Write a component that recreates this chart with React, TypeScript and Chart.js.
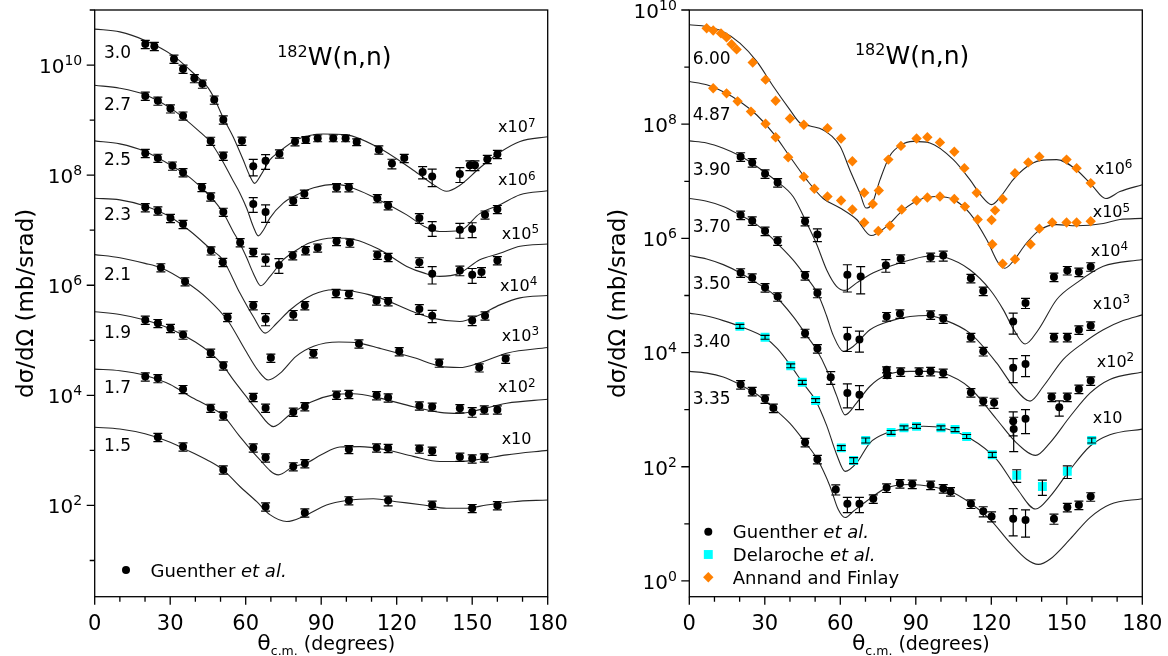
import { useEffect, useRef } from 'react';
import { Chart, registerables } from 'chart.js';

Chart.register(...registerables);

const FONT = 'DejaVu Sans';

type P = [number, number];
type E = [number, number, number];

// ===================== LEFT PANEL (Guenther et al.) =====================
// curves: [theta c.m. (deg), dσ/dΩ (mb/sr)] — unscaled physical values
const c30: P[] = [[0,4.5e3],[10,4.0e3],[20,2.8e3],[31,1.5e3],[40,660],[45,390],[47.5,250],[51,112],[55,50],[59,19],[61.5,10],[63.5,7.1],[66,10],[69.6,19],[73,26],[80.2,44],[90.8,56],[100,54],[112,33],[126.6,12.3],[134.5,6.8],[139.8,5.1],[145,6.5],[153,13.5],[161,26],[169,41],[180,50]];
const d30: E[] = [[20.1,2400,.17],[23.7,2200,.17],[31.5,1290,.17],[35.1,850,.17],[39.6,575,.17],[42.8,457,.17],[47.5,234,.17],[51.1,102,.17],[58.5,42,.17],[63,14.5,.33],[67.9,18.2,.3],[73.4,24.5,.17],[79.6,41,.17],[83.9,44,.14],[88.6,47,.14],[94.8,47,.14],[99.7,47,.14],[104.1,40,.14],[112.9,29,.17],[118.1,16.2,.2],[123,20.4,.17],[130.3,11.4,.25],[134.1,9.5,.35],[145.1,10.5,.3],[149.1,15.1,.2],[151.1,15.1,.2],[156,19.5,.17],[160,24,.17]];

const c27: P[] = [[0,4.3e3],[10,3.8e3],[20,2.9e3],[31,1.55e3],[42,600],[46,400],[50.5,190],[55,79],[57.7,47],[60.4,25],[63,11.7],[65,7.9],[67,10],[69.6,16.6],[74.9,31],[80,43],[87,59],[96,68],[104,55],[113,35.5],[124,19],[131,11.7],[137,9.5],[145,9.8],[153,20],[161,29],[169,44],[180,52]];
const d27: E[] = [[20.1,2750,.17],[25.1,2240,.17],[30.1,1620,.17],[35.1,1200,.17],[46.1,417,.17],[51.1,224,.17],[63,30,.3],[67.9,21.4,.35],[78.9,34,.17],[83.3,45.7,.17],[96.1,60,.17],[101,60,.17],[112.3,38,.17],[116.6,28.2,.17],[129,16.6,.2],[134.1,11,.3],[145.1,10.2,.3],[150,10.5,.3],[155.1,19.1,.17],[160,24,.17]];

const c25: P[] = [[0,4.2e3],[10,3.7e3],[20,2.7e3],[31,1.45e3],[38,890],[46,407],[51,209],[55,95],[57.7,57.5],[60.4,31.6],[63,16.6],[66,9.8],[69.7,14.5],[74.9,28.8],[80.3,43.7],[85.5,59],[95,72],[103,68],[113,45],[124,22],[131,16.6],[137,14.5],[145,16.6],[153,29],[161,38],[169,51],[180,56]];
const d25: E[] = [[20.1,2510,.17],[25.1,2050,.17],[30.9,1480,.17],[35.1,1120,.17],[42.6,603,.17],[46.1,407,.17],[51.1,214,.17],[57.8,60,.17],[63,40,.17],[67.9,29.5,.25],[73.2,23.4,.3],[78.7,34.7,.17],[83.8,43,.17],[88.6,48,.17],[96.1,63,.17],[101.4,59,.17],[112.3,35.5,.17],[116.6,32.4,.17],[129,26.3,.2],[134.1,16.2,.35],[145.1,18.6,.2],[150,15.5,.3],[153.7,17.4,.2],[160,28.2,.17]];

const c23: P[] = [[0,3.8e3],[10,3.55e3],[20,2.75e3],[30,1.74e3],[38,955],[46,457],[51,288],[57.7,72],[63,27],[67.7,13.5],[72.3,20.4],[77.6,35.5],[86.8,67.6],[94.8,83],[102.7,77.6],[113.3,59],[126.6,33],[134.5,25],[145.1,22],[153.1,29],[161,44],[169,59],[180,65]];
const d23: E[] = [[20.1,2600,.17],[25.1,2260,.17],[30.1,1660,.17],[35.1,1290,.17],[46.2,427,.17],[50.9,263,.17],[63,43,.17],[67.9,24.5,.25],[78.9,29,.2],[83.5,43,.17],[95.9,72,.17],[101,69,.17],[112,52.5,.17],[116.6,51,.17],[129,37,.2],[134.1,28,.25],[150,23,.2],[155.1,28,.17]];

const c21: P[] = [[0,3.6e3],[10,3.16e3],[20,2.5e3],[26,2.1e3],[36,1.17e3],[45,562],[53,224],[59.7,68],[65,28],[69,19],[73.6,25],[80,51],[87,78],[97,93],[105,89],[113,72],[127,48],[137,34],[145,32],[153,39],[164,59],[180,74]];
const d21: E[] = [[26.3,2100,.17],[35.9,1170,.17],[52.8,263,.17],[70,48,.17],[86.9,58,.17],[105,87,.17],[121,63,.17],[136.9,39,.17],[152.8,32,.17],[163.3,46,.17]];

const c19: P[] = [[0,3.3e3],[10,2.95e3],[20,2.34e3],[30,1.62e3],[40,933],[46,589],[51,347],[55.1,191],[59.7,102],[64.4,55],[71,27],[77.6,45],[86,76],[94.8,102],[102.7,107],[113.3,89],[126.6,62],[137.2,49],[145.1,47],[153.1,55],[163.7,72],[180,85]];
const d19: E[] = [[20.1,2340,.17],[25.1,2040,.17],[30.1,1660,.17],[35.1,1260,.17],[46.1,589,.17],[51.1,347,.17],[63,93,.17],[67.9,59,.17],[78.9,50,.17],[83.5,63,.17],[96.1,102,.17],[101,105,.17],[112,100,.17],[116.6,91,.17],[129,65,.17],[134.1,62,.17],[145.1,58,.17],[150,50,.2],[154.8,55,.17],[160,55,.17]];

const c17: P[] = [[0,3.0e3],[10,2.8e3],[20,2.3e3],[30,1.58e3],[37.9,955],[45.8,617],[50.9,437],[57.7,178],[64.4,78],[73,36],[78.9,51],[83.8,58],[90,83],[97.4,115],[105.4,117],[116,102],[126.6,78],[137.2,63],[145.1,63],[153.1,69],[163.7,83],[180,100]];
const d17: E[] = [[20.1,2190,.17],[25.1,2040,.17],[35.1,1290,.17],[46.1,589,.17],[51.1,427,.17],[63,112,.17],[67.9,74,.17],[78.9,51,.17],[83.5,58,.17],[101,105,.17],[112,112,.17],[116.6,110,.17],[129,107,.17],[134.1,98,.17],[145.1,76,.17],[150,71,.17],[154.8,74,.17]];

const c15: P[] = [[0,2.63e3],[10,2.45e3],[20,2.0e3],[30,1.41e3],[37.9,955],[44.5,676],[50.9,447],[57.7,221],[64.4,117],[69.6,68],[76.3,51],[82.9,63],[92.1,102],[100.1,123],[110.7,132],[119.9,117],[130.6,102],[139.8,89],[147.8,89],[155.7,102],[166.3,117],[180,126]];
const d15: E[] = [[25.1,1740,.17],[35.1,1170,.17],[51.1,447,.17],[67.9,95,.17],[83.5,74,.17],[101,123,.17],[116.6,123,.2],[134.1,102,.17],[150,89,.17],[160,100,.17]];

// ===================== RIGHT PANEL =====================
const c600: P[] = [[0,5.5e3],[6.9,5.13e3],[13.5,4.17e3],[20.1,2.63e3],[26.8,1.26e3],[33.4,457],[40,178],[44,105],[48,93],[53.2,79],[59.9,41],[63.8,15.8],[67.8,6.2],[70.2,3.4],[72.5,3.9],[75.8,10.7],[79.7,28],[84,43],[89,50],[95.6,47],[104.9,24],[111.5,10.7],[116,5.6],[120.1,3.9],[124,5.6],[128.7,10.7],[134,17.8],[139.3,23],[146,24],[153.9,15.8],[160,8.5],[165.5,5.0],[171.1,6.6],[180,8.7]];
const a600: P[] = [[6.9,4790],[9.5,4370],[12.6,3890],[14.8,3310],[16.8,2510],[18.8,2040],[25.2,1200],[30.3,603],[34.3,257],[40,126],[45.5,98],[54.9,85],[60.3,56],[64.8,22.4],[69.5,6.3],[72.9,4.0],[75.3,6.9],[79.1,24],[84.1,41.7],[90.3,56],[94.6,59],[99.6,48],[105.3,33],[109.3,17],[114.2,6.3],[120.1,2.1],[121.5,3.1],[124.5,4.9],[129.4,13.8],[134.7,21.4],[139.1,27],[149.9,24],[153.9,17],[159.5,9.3]];

const c487: P[] = [[0,5.6e3],[6.9,4.9e3],[13.5,3.7e3],[20.1,2.5e3],[26.8,1.45e3],[33.4,692],[40,269],[46.6,107],[53.2,50],[59.9,34],[66.5,21.4],[72.2,11.2],[78.4,16.2],[85,31.6],[91.7,48],[98.3,54],[104.9,48],[111.5,27.5],[118.2,9.5],[122.8,3.7],[125.4,3.0],[128.7,4.0],[134,8.3],[139.3,14.1],[146,17.4],[153.9,16.6],[164.5,18.2],[171.1,21.4],[180,22.4]];
const a487: P[] = [[9.5,4270],[14.8,3470],[19.2,2510],[24.5,1660],[30.3,1020],[34.3,589],[39.3,263],[45.5,120],[49.7,74],[54.9,54],[60.3,46],[64.8,32],[69.5,19],[75.1,13.5],[79.7,16.6],[84.4,32],[90.3,46],[94.6,52],[99.6,54],[105.3,49],[109.5,36],[114.6,21.4],[120.4,7.9],[124.5,3.6],[129.4,4.3],[135.6,7.9],[139.1,14.8],[144.2,19],[149.9,19],[153.9,19],[159.5,20]];

const c390: P[] = [[0,5.1e3],[6.9,4.7e3],[13.5,3.8e3],[20.1,2.8e3],[26.8,1.82e3],[34.7,1.0e3],[41.3,537],[46.3,200],[50.6,79],[54.6,28],[58.5,14.5],[61.9,12.3],[66.5,16.6],[71.8,23.4],[79.7,32.4],[87.7,41.7],[95.6,49],[102.3,45.7],[111.5,28.2],[119.5,12.6],[124.8,5.6],[128.7,2.63],[133.4,1.41],[138.7,2.51],[146,8.5],[153.9,16.6],[164.5,32.4],[180,42.7]];
const d390: E[] = [[20.4,2700,.17],[25,2140,.17],[30.1,1350,.17],[35.1,955,.17],[46,200,.17],[50.9,117,.25],[62.8,23,.5],[68.1,21.4,.5],[78.1,34,.25],[84,44,.17],[95.9,47,.17],[100.9,50,.2],[111.9,20,.17],[116.8,12,.17],[128.7,3.5,.4],[133.6,7.4,.2],[144.9,21,.17],[150.2,27.5,.17],[154.8,25.7,.17],[159.5,32,.17]];

const c370: P[] = [[0,5.0e3],[6.9,4.47e3],[13.5,3.63e3],[20.1,2.57e3],[26.8,1.74e3],[33.4,955],[41.3,417],[46,224],[50.9,110],[54.5,44.7],[57.2,20],[61.2,10.5],[65.2,12.9],[71.8,25.1],[81.1,37],[87.7,42.7],[95,44.7],[100.9,38],[111.5,21.9],[122.1,6.6],[128.7,2.57],[135.4,1.41],[140.7,2.57],[148.6,7.6],[156.6,14.8],[164.5,25.1],[172.4,36.3],[180,45.7]];
const d370: E[] = [[20.4,2570,.17],[25,2040,.17],[30.1,1350,.17],[35.1,912,.17],[46,224,.17],[50.9,110,.17],[62.8,19,.45],[67.6,17,.4],[78.4,43,.17],[83.7,48,.17],[95.9,46,.17],[100.9,39,.17],[111.9,18.6,.17],[116.8,10.5,.17],[128.7,5.4,.45],[133.6,6.3,.4],[144.9,18.6,.17],[150.2,18.6,.17],[154.8,25,.17],[159.5,29.5,.17]];

const c350: P[] = [[0,5.0e3],[6.9,4.37e3],[13.5,3.47e3],[20.1,2.51e3],[26.8,1.66e3],[33.4,1.05e3],[41.3,427],[46.6,200],[50.6,112],[54.6,50],[58.5,17.8],[61.9,8.1],[66.5,13.2],[71.8,25.7],[78.4,40.7],[87.7,46.8],[95,46.8],[100.9,43.7],[111.5,24],[122.1,6.8],[130,2.63],[137.6,1.58],[143.3,2.63],[151.3,7.6],[159.2,19.5],[167.1,33.9],[180,45.7]];
const d350: E[] = [[20.4,2510,.17],[25,2040,.17],[30.1,1380,.17],[35.1,955,.17],[46,219,.17],[50.9,118,.17],[56.2,37,.25],[62.8,19.5,.45],[67.6,18.2,.45],[78.4,50,.12],[78.6,40,.12],[84,46,.17],[91.3,46,.17],[95.9,47,.17],[100.9,44,.17],[111.9,20,.17],[116.8,14.1,.17],[121.1,13.2,.2],[128.7,6.3,.45],[128.9,4.6,.6],[133.6,6.9,.45],[144,16.6,.17],[147,11,.3],[150.2,16.6,.17],[154.8,23,.17],[159.5,32,.17]];

const c340: P[] = [[0,4.9e3],[6.9,4.37e3],[13.5,3.63e3],[20.1,2.88e3],[30.1,1.82e3],[35,1.17e3],[40.3,589],[44.9,302],[50.2,145],[54.6,52.5],[58.5,16.6],[61.9,8.3],[66.5,11.7],[71.8,26.3],[78.4,38.9],[87.7,47.9],[93,51.3],[100.9,47.9],[111.5,31.6],[122.1,13.5],[130.1,4.2],[137.6,1.82],[143.3,3.0],[151.3,8.9],[159.2,22.9],[167.1,36.3],[180,45.7]];
const d340: E[] = [[20.1,2880,.08],[30.1,1860,.08],[40.3,589,.08],[44.9,302,.08],[50.2,145,.08],[60.4,21.4,.1],[65.3,12.9,.12],[70.1,29,.1],[80.2,40,.08],[85.3,48,.08],[90.3,51,.08],[100,48,.08],[105.6,45,.08],[110.2,34,.08],[120.4,16.2,.1],[130.1,7.1,.25],[140.3,4.5,.3],[150.2,8.3,.25],[159.9,29,.1]];

const c335: P[] = [[0,4.68e3],[6.9,4.37e3],[13.5,3.72e3],[20.1,2.75e3],[26.8,1.86e3],[33.4,1.07e3],[40,575],[46,269],[50.9,135],[55.9,45.7],[59.2,17.8],[61.9,12.9],[65.2,16.6],[70.5,25.1],[78.4,42.7],[87.7,49],[95.6,45.7],[103.6,37.2],[111.5,23.4],[119.5,12],[127.4,4.68],[134,2.4],[138.7,1.95],[143.3,2.4],[151.3,5.4],[159.2,12.9],[167.1,21.9],[180,27.5]];
const d335: E[] = [[20.4,2750,.17],[25,2100,.17],[30.1,1550,.17],[33.4,1070,.17],[46,269,.17],[50.9,135,.17],[58.2,40,.2],[62.8,22.4,.3],[67.6,22.4,.3],[73.1,27.5,.17],[78.4,42.7,.17],[83.7,51,.17],[88.6,50,.17],[95.9,48,.17],[100.9,41.7,.17],[103.8,37,.17],[111.9,22.4,.17],[116.8,16.6,.2],[120.1,13.5,.2],[128.7,12.3,.5],[133.6,11.7,.5],[144.9,12.3,.2],[150.2,19.5,.17],[154.8,21.4,.17],[159.5,30,.17]];

// ticks
const xTickLabels = [0, 30, 60, 90, 120, 150, 180];
const yTicksLeft = [1e1, 1e2, 1e3, 1e4, 1e5, 1e6, 1e7, 1e8, 1e9, 1e10, 1e11];
const yTicksRight = [1e0, 1e1, 1e2, 1e3, 1e4, 1e5, 1e6, 1e7, 1e8, 1e9, 1e10];

const MARK: any = {
  g: { style: 'circle', r: 4, color: '#000000' },
  d: { style: 'rect', r: 6.3, color: '#00ffff' },
  a: { style: 'rectRot', r: 5.2, color: '#ff8000' },
};

const LEFT: any = {
  series: [
    { e: '3.0', scale: 1e7, curve: c30, marks: [{ kind: 'g', pts: d30 }] },
    { e: '2.7', scale: 1e6, curve: c27, marks: [{ kind: 'g', pts: d27 }] },
    { e: '2.5', scale: 1e5, curve: c25, marks: [{ kind: 'g', pts: d25 }] },
    { e: '2.3', scale: 1e4, curve: c23, marks: [{ kind: 'g', pts: d23 }] },
    { e: '2.1', scale: 1e3, curve: c21, marks: [{ kind: 'g', pts: d21 }] },
    { e: '1.9', scale: 1e2, curve: c19, marks: [{ kind: 'g', pts: d19 }] },
    { e: '1.7', scale: 1e1, curve: c17, marks: [{ kind: 'g', pts: d17 }] },
    { e: '1.5', scale: 1, curve: c15, marks: [{ kind: 'g', pts: d15 }] },
  ],
  yMin: 2.2, yMax: 1e11, yTicks: yTicksLeft,
  axisWidth: 94.7, padRight: 36.3,
  yTitleDx: -61.7,
  titleDeg: 72.5, titleDy: 55,
  energy: [['3.0', 3.7, 1.77e10], ['2.7', 3.7, 1.95e9], ['2.5', 3.7, 2.0e8], ['2.3', 3.7, 2.0e7], ['2.1', 3.7, 1.6e6], ['1.9', 3.7, 1.45e5], ['1.7', 3.7, 1.45e4], ['1.5', 3.7, 1.26e3]],
  mults: [[7, 160.3, 7.7e8], [6, 160.3, 8.3e7], [5, 161.7, 8.9e6], [4, 161.0, 1.02e6], [3, 161.7, 1.26e5], [2, 160.3, 1.45e4], [1, 161.7, 1.66e3]],
  legend: { dx: 31.3, dy: 560, rows: [{ kind: 'g', text: 'Guenther ', it: 'et al.' }] },
};

const RIGHT: any = {
  series: [
    { e: '6.00', scale: 1e6, curve: c600, marks: [{ kind: 'a', pts: a600 }] },
    { e: '4.87', scale: 1e5, curve: c487, marks: [{ kind: 'a', pts: a487 }] },
    { e: '3.90', scale: 1e4, curve: c390, marks: [{ kind: 'g', pts: d390 }] },
    { e: '3.70', scale: 1e3, curve: c370, marks: [{ kind: 'g', pts: d370 }] },
    { e: '3.50', scale: 1e2, curve: c350, marks: [{ kind: 'g', pts: d350 }] },
    { e: '3.40', scale: 1e1, curve: c340, marks: [{ kind: 'd', pts: d340 }] },
    { e: '3.35', scale: 1, curve: c335, marks: [{ kind: 'g', pts: d335 }] },
  ],
  yMin: 0.53, yMax: 1e10, yTicks: yTicksRight,
  axisWidth: 105.3, padRight: 25.7,
  yTitleDx: -64.3,
  titleDeg: 65.8, titleDy: 53.5,
  energy: [['6.00', 1.4, 1.43e9], ['4.87', 1.4, 1.55e8], ['3.90', 1.4, 1.66e7], ['3.70', 1.4, 1.68e6], ['3.50', 1.4, 1.7e5], ['3.40', 1.4, 1.62e4], ['3.35', 1.4, 1.62e3]],
  mults: [[6, 161.2, 1.7e7], [5, 160.3, 2.95e6], [4, 159.5, 6.3e5], [3, 160.3, 7.4e4], [2, 161.9, 7.1e3], [1, 160.3, 741]],
  legend: {
    dx: 19, dy: 521.7, rows: [
      { kind: 'g', text: 'Guenther ', it: 'et al.' },
      { kind: 'd', text: 'Delaroche ', it: 'et al.' },
      { kind: 'a', text: 'Annand and Finlay', it: '' },
    ],
  },
};

function measureRuns(ctx: any, parts: any[]) {
  let w = 0;
  for (const p of parts) { ctx.font = p.font; w += ctx.measureText(p.t).width; }
  return w;
}

function drawRuns(ctx: any, x: number, y: number, parts: any[], align = 'left') {
  const w = measureRuns(ctx, parts);
  let cx = align === 'center' ? x - w / 2 : align === 'right' ? x - w : x;
  ctx.textAlign = 'left';
  for (const p of parts) {
    ctx.font = p.font;
    ctx.fillText(p.t, cx, y + (p.dy || 0));
    cx += ctx.measureText(p.t).width;
  }
}

function drawMarker(ctx: any, kind: string, x: number, y: number) {
  const m = MARK[kind];
  ctx.fillStyle = m.color;
  ctx.beginPath();
  if (kind === 'g') ctx.arc(x, y, m.r, 0, Math.PI * 2);
  else if (kind === 'd') { const s = m.r * Math.SQRT1_2; ctx.rect(x - s, y - s, 2 * s, 2 * s); }
  else { ctx.moveTo(x - m.r, y); ctx.lineTo(x, y - m.r); ctx.lineTo(x + m.r, y); ctx.lineTo(x, y + m.r); ctx.closePath(); }
  ctx.fill();
}

function makeDecor(cfg: any) {
  return {
    id: 'decor',
    afterDatasetsDraw(chart: any) {
      const ctx = chart.ctx;
      const xs = chart.scales.x, ys = chart.scales.y;
      ctx.save();
      ctx.strokeStyle = '#000';
      ctx.lineWidth = 1.2;
      chart.data.datasets.forEach((ds: any) => {
        if (!ds.errs) return;
        ds.data.forEach((p: any, j: number) => {
          const f = ds.errs[j];
          if (!f) return;
          const x = xs.getPixelForValue(p.x);
          const y0 = ys.getPixelForValue(p.y * (1 - f));
          const y1 = ys.getPixelForValue(p.y * (1 + f));
          const cap = 4.5;
          ctx.beginPath();
          ctx.moveTo(x, y0); ctx.lineTo(x, y1);
          ctx.moveTo(x - cap, y0); ctx.lineTo(x + cap, y0);
          ctx.moveTo(x - cap, y1); ctx.lineTo(x + cap, y1);
          ctx.stroke();
        });
      });
      ctx.restore();
    },
    afterDraw(chart: any) {
      const ctx = chart.ctx;
      const a = chart.chartArea;
      const xs = chart.scales.x, ys = chart.scales.y;
      ctx.save();
      // frame
      ctx.strokeStyle = '#000';
      ctx.lineWidth = 1.3;
      ctx.strokeRect(a.left, a.top, a.right - a.left, a.bottom - a.top);
      // ticks
      ctx.beginPath();
      ys.ticks.forEach((t: any) => {
        const y = ys.getPixelForValue(t.value);
        const e = Math.round(Math.log10(t.value));
        const len = e % 2 === 0 ? 8 : 5;
        ctx.moveTo(a.left - len, y); ctx.lineTo(a.left, y);
      });
      xs.ticks.forEach((t: any) => {
        const x = xs.getPixelForValue(t.value);
        const len = t.value % 30 === 0 ? 8 : 5;
        ctx.moveTo(x, a.bottom); ctx.lineTo(x, a.bottom + len);
      });
      ctx.stroke();

      ctx.fillStyle = '#000';
      ctx.textBaseline = 'alphabetic';
      // y tick labels (10 with superscript exponent)
      ys.ticks.forEach((t: any) => {
        const e = Math.round(Math.log10(t.value));
        if (e % 2 !== 0) return;
        const y = ys.getPixelForValue(t.value);
        drawRuns(ctx, a.left - 12.5, y + 7.8, [
          { t: '10', font: `20px ${FONT}` },
          { t: String(e), font: `14px ${FONT}`, dy: -8 },
        ], 'right');
      });
      // y title
      ctx.save();
      ctx.translate(a.left + cfg.yTitleDx, (a.top + a.bottom) / 2);
      ctx.rotate(-Math.PI / 2);
      ctx.textAlign = 'center';
      ctx.font = `23px ${FONT}`;
      ctx.fillText('dσ/dΩ (mb/srad)', 0, 0);
      ctx.restore();
      // x title
      drawRuns(ctx, (a.left + a.right) / 2 + 5, 650, [
        { t: 'θ', font: `22px ${FONT}` },
        { t: 'c.m.', font: `12.5px ${FONT}`, dy: 5 },
        { t: ' (degrees)', font: `19px ${FONT}` },
      ], 'center');
      // title
      drawRuns(ctx, xs.getPixelForValue(cfg.titleDeg), a.top + cfg.titleDy, [
        { t: '182', font: `16px ${FONT}`, dy: -8.5 },
        { t: 'W(n,n)', font: `25px ${FONT}` },
      ]);
      // energy labels
      ctx.textAlign = 'left';
      ctx.font = `17px ${FONT}`;
      for (const [t, x, v] of cfg.energy) {
        ctx.fillText(t, xs.getPixelForValue(x), ys.getPixelForValue(v) + 6.2);
      }
      // multipliers
      for (const [n, x, v] of cfg.mults) {
        const parts: any[] = [{ t: 'x10', font: `16px ${FONT}` }];
        if (n > 1) parts.push({ t: String(n), font: `12px ${FONT}`, dy: -5.5 });
        drawRuns(ctx, xs.getPixelForValue(x), ys.getPixelForValue(v) + 5.8, parts);
      }
      // legend
      const lg = cfg.legend;
      lg.rows.forEach((r: any, i: number) => {
        const mx = a.left + lg.dx, my = a.top + lg.dy + i * 22.8;
        drawMarker(ctx, r.kind, mx, my);
        ctx.fillStyle = '#000';
        const parts: any[] = [{ t: r.text, font: `18px ${FONT}` }];
        if (r.it) parts.push({ t: r.it, font: `italic 18px ${FONT}` });
        drawRuns(ctx, mx + 24.5, my + 6.5, parts);
      });
      ctx.restore();
    },
  };
}

function buildConfig(cfg: any): any {
  const datasets: any[] = [];
  for (const s of cfg.series) {
    datasets.push({
      type: 'line',
      data: s.curve.map(([x, v]: P) => ({ x, y: v * s.scale })),
      borderColor: '#262626', borderWidth: 1.1,
      pointRadius: 0, pointHoverRadius: 0, fill: false,
      cubicInterpolationMode: 'monotone', order: 3,
    });
  }
  for (const s of cfg.series) {
    for (const m of s.marks) {
      const st = MARK[m.kind];
      datasets.push({
        type: 'scatter',
        data: m.pts.map((p: any) => ({ x: p[0], y: p[1] * s.scale })),
        errs: m.pts.map((p: any) => p[2]),
        pointStyle: st.style, pointRadius: st.r, pointHoverRadius: st.r,
        backgroundColor: st.color, pointBackgroundColor: st.color,
        borderWidth: 0, pointBorderWidth: 0, showLine: false,
        order: m.kind === 'g' ? 1 : 2,
      });
    }
  }
  const resetPad = (s: any) => { s.paddingTop = 0; s.paddingBottom = 0; s.paddingLeft = 0; s.paddingRight = 0; };
  return {
    type: 'scatter',
    data: { datasets },
    options: {
      responsive: false, animation: false, devicePixelRatio: 1, events: [],
      layout: { padding: { top: 10, right: cfg.padRight, left: 0, bottom: 0 } },
      plugins: { legend: { display: false }, tooltip: { enabled: false } },
      scales: {
        x: {
          type: 'linear', min: 0, max: 180,
          grid: { display: false }, border: { display: false },
          ticks: {
            stepSize: 10, autoSkip: false, maxRotation: 0, padding: 7, color: '#000',
            font: { family: FONT, size: 21 },
            callback: (v: number) => (xTickLabels.includes(v) ? String(v) : ''),
          },
          afterFit: (s: any) => { s.height = 59.3; resetPad(s); },
        },
        y: {
          type: 'logarithmic', min: cfg.yMin, max: cfg.yMax,
          grid: { display: false }, border: { display: false },
          ticks: { display: false, autoSkip: false },
          afterBuildTicks: (s: any) => { s.ticks = cfg.yTicks.map((value: number) => ({ value })); },
          afterFit: (s: any) => { s.width = cfg.axisWidth; resetPad(s); },
        },
      },
    },
    plugins: [makeDecor(cfg)],
  };
}

export default function App() {
  const leftRef = useRef<HTMLCanvasElement>(null);
  const rightRef = useRef<HTMLCanvasElement>(null);
  useEffect(() => {
    const c1 = new Chart(leftRef.current as any, buildConfig(LEFT));
    const c2 = new Chart(rightRef.current as any, buildConfig(RIGHT));
    return () => { c1.destroy(); c2.destroy(); };
  }, []);
  return (
    <div style={{ position: 'absolute', left: 0, top: 0, width: 1168, height: 656, background: '#fff', overflow: 'hidden' }}>
      <canvas ref={leftRef} width={584} height={656} style={{ position: 'absolute', left: 0, top: 0 }} />
      <canvas ref={rightRef} width={584} height={656} style={{ position: 'absolute', left: 584, top: 0 }} />
    </div>
  );
}
